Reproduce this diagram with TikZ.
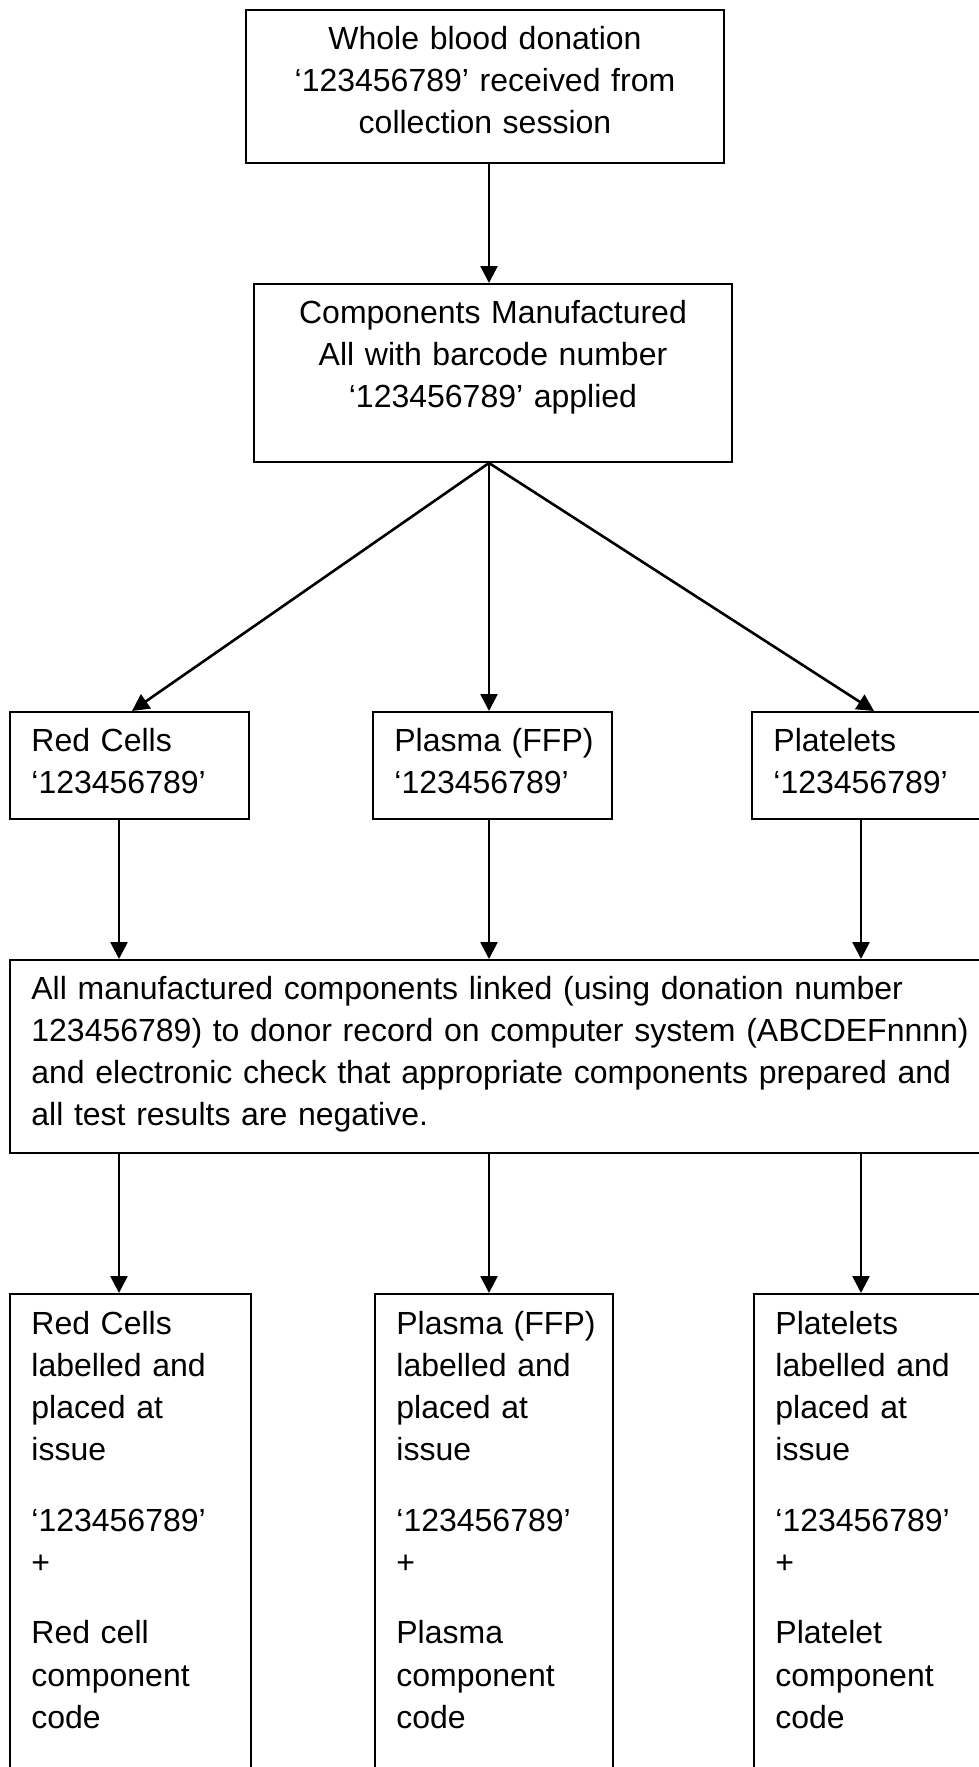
\documentclass[tikz,border=0pt]{standalone}
\usepackage{fontspec}
\setmainfont{Liberation Sans}
\usetikzlibrary{arrows.meta}

\begin{document}
\begin{tikzpicture}[x=0.5pt, y=-0.5pt,
    box/.style={draw, line width=1pt, anchor=north west, inner ysep=0pt,
      font=\fontsize{16}{21.15}\selectfont},
    head/.style={box, align=center, inner xsep=5pt, text width=229pt},
    cell/.style={box, align=left, inner xsep=10.7pt},
    arr/.style={-{Triangle[length=8.5pt, width=8.5pt]}, line width=1.3pt}]
  \clip (0,0) rectangle (979,1767);
  % columns of the arrows
  \coordinate (colA) at (119,0);
  \coordinate (colB) at (489,0);
  \coordinate (colC) at (861,0);
  \coordinate (tipA) at (132,0);
  \coordinate (tipC) at (874,0);
  \node[head, text height=19.5pt, text depth=57pt] (whole) at (245,9) {Whole blood donation\\‘123456789’ received from\\collection session};
  \node[head, text height=19.5pt, text depth=69.5pt] (manuf) at (253,283) {Components Manufactured\\All with barcode number\\‘123456789’ applied};
  \node[cell, text width=98.1pt, text height=19.5pt, text depth=34pt] (red) at (9,711) {Red Cells\\‘123456789’};
  \node[cell, text width=98.1pt, text height=19.5pt, text depth=34pt] (plasma) at (372,711) {Plasma~(FFP)\\‘123456789’};
  \node[cell, text width=103.1pt, text height=19.5pt, text depth=34pt] (plate) at (751,711) {Platelets\\‘123456789’};
  \node[cell, text width=474.1pt, text height=19.5pt, text depth=77pt] (link) at (9,959) {All manufactured components linked (using donation number\\123456789) to donor record on computer system (ABCDEFnnnn)\\and electronic check that appropriate components prepared and\\all test results are negative.};
  \node[cell, text width=99.1pt, text height=20pt, text depth=250pt] (redissue) at (9,1293) {Red Cells\\labelled and\\placed at\\issue\\[14pt]‘123456789’\\+\\[14pt]Red cell\\component\\code};
  \node[cell, text width=97.6pt, text height=20pt, text depth=250pt] (plasmaissue) at (374,1293) {Plasma~(FFP)\\labelled and\\placed at\\issue\\[14pt]‘123456789’\\+\\[14pt]Plasma\\component\\code};
  \node[cell, text width=102.1pt, text height=20pt, text depth=250pt] (plateissue) at (753,1293) {Platelets\\labelled and\\placed at\\issue\\[14pt]‘123456789’\\+\\[14pt]Platelet\\component\\code};
  \draw[arr] (whole.south -| colB) -- (manuf.north -| colB);
  \draw[arr] (manuf.south -| colB) -- (red.north -| tipA);
  \draw[arr] (manuf.south -| colB) -- (plasma.north -| colB);
  \draw[arr] (manuf.south -| colB) -- (plate.north -| tipC);
  \draw[arr] (red.south -| colA) -- (link.north -| colA);
  \draw[arr] (plasma.south -| colB) -- (link.north -| colB);
  \draw[arr] (plate.south -| colC) -- (link.north -| colC);
  \draw[arr] (link.south -| colA) -- (redissue.north -| colA);
  \draw[arr] (link.south -| colB) -- (plasmaissue.north -| colB);
  \draw[arr] (link.south -| colC) -- (plateissue.north -| colC);
\end{tikzpicture}
\end{document}
